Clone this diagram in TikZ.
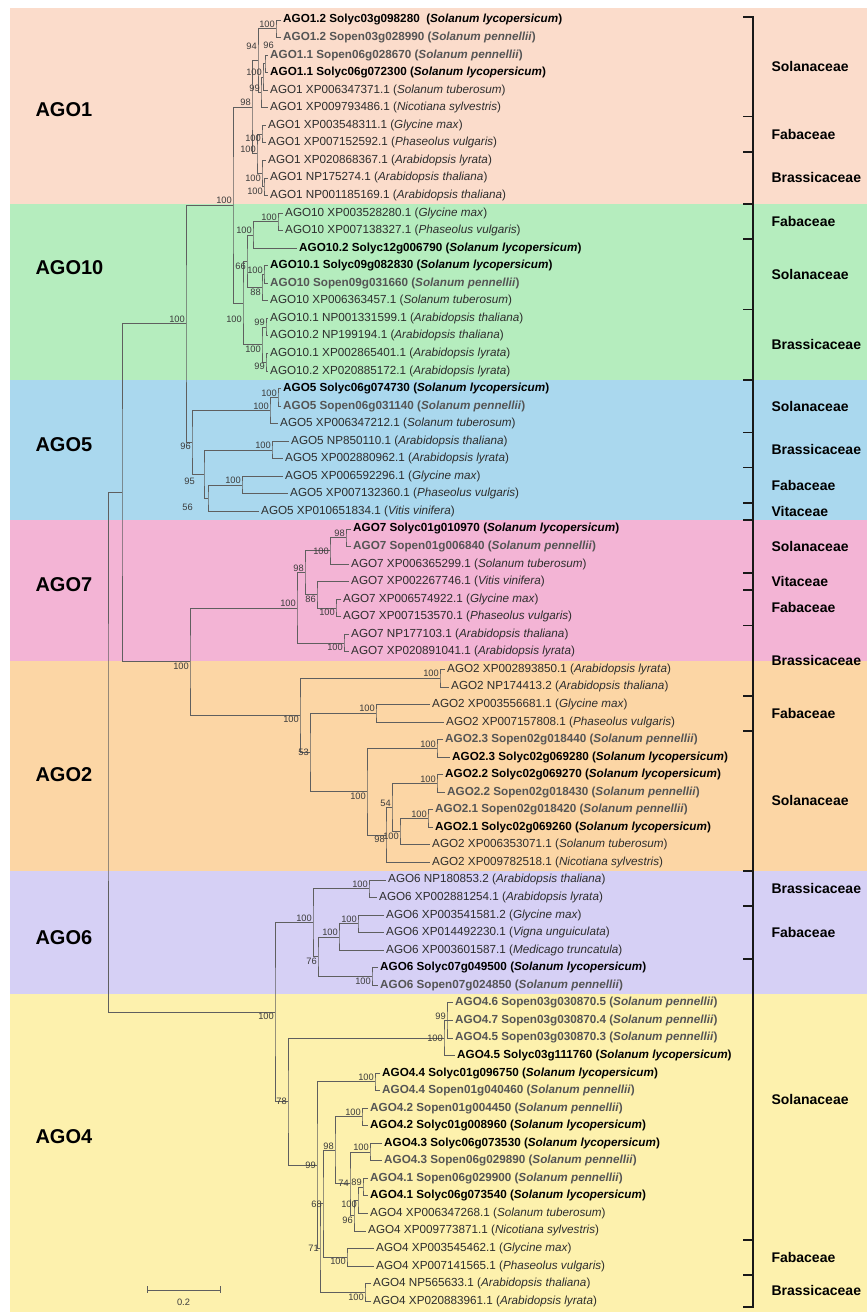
\documentclass[tikz,border=0pt]{standalone}
\usepackage{fontspec}
\setmainfont{Liberation Sans}
\usepackage{tikz}
\usetikzlibrary{positioning}
\definecolor{bandago1}{RGB}{251,220,203}
\definecolor{bandago10}{RGB}{181,237,190}
\definecolor{bandago5}{RGB}{170,216,238}
\definecolor{bandago7}{RGB}{243,180,213}
\definecolor{bandago2}{RGB}{252,214,165}
\definecolor{bandago6}{RGB}{214,208,245}
\definecolor{bandago4}{RGB}{253,241,173}
\definecolor{treegray}{RGB}{95,95,95}
\definecolor{leafgray}{RGB}{45,45,45}
\definecolor{penngray}{RGB}{85,85,85}
\definecolor{bsgray}{RGB}{60,60,60}
\tikzset{
  br/.style={draw=treegray, line width=0.8pt},
  famline/.style={draw=black!90, line width=1.8pt},
  leaf/.style={anchor=west, inner xsep=2pt, inner ysep=0pt, font=\fontsize{11.7}{14}\selectfont, text=leafgray},
  lyco/.style={leaf, font=\fontsize{11.7}{14}\selectfont\bfseries, text=black},
  penn/.style={leaf, font=\fontsize{11.7}{14}\selectfont\bfseries, text=penngray},
  bs/.style={font=\fontsize{9.3}{11}\selectfont, text=bsgray, inner sep=1pt},
  bsa/.style={bs, anchor=south east},
  bsb/.style={bs, anchor=north east},
  bsl/.style={bs, anchor=east},
  grp/.style={anchor=west, font=\fontsize{20}{23}\selectfont\bfseries},
  fam/.style={anchor=west, font=\fontsize{14}{16}\selectfont\bfseries},
}
\begin{document}
\begin{tikzpicture}[x=1pt,y=-17.55pt]
% x in pixels, y in leaf rows
\useasboundingbox (0,-0.1396) rectangle (867,74.619);

% coloured bands, one per AGO group
\fill[bandago1] (10,0.316) rectangle (867,11.5);
\fill[bandago10] (10,11.5) rectangle (867,21.5);
\fill[bandago5] (10,21.5) rectangle (867,29.5);
\fill[bandago7] (10,29.5) rectangle (867,37.5);
\fill[bandago2] (10,37.5) rectangle (867,49.5);
\fill[bandago6] (10,49.5) rectangle (867,56.5);
\fill[bandago4] (10,56.5) rectangle (867,74.619);

\node[grp] (gAGO1) at (32,6.1) {AGO1};
\node[grp] (gAGO10) at (32,15.1) {AGO10};
\node[grp] (gAGO5) at (32,25.2) {AGO5};
\node[grp] (gAGO7) at (32,33.2) {AGO7};
\node[grp] (gAGO2) at (32,44) {AGO2};
\node[grp] (gAGO6) at (32,53.3) {AGO6};
\node[grp] (gAGO4) at (32,64.6) {AGO4};

% leaves
% AGO1
\node[lyco] (l1) at (281,1) {AGO1.2 Solyc03g098280 ~(\textit{Solanum lycopersicum})};
\node[penn] (l2) at (281,2) {AGO1.2 Sopen03g028990 (\textit{Solanum pennellii})};
\node[penn] (l3) at (268,3) {AGO1.1 Sopen06g028670 (\textit{Solanum pennellii})};
\node[lyco] (l4) at (268,4) {AGO1.1 Solyc06g072300 (\textit{Solanum lycopersicum})};
\node[leaf] (l5) at (268,5) {AGO1 XP006347371.1 (\textit{Solanum tuberosum})};
\node[leaf] (l6) at (268,6) {AGO1 XP009793486.1 (\textit{Nicotiana sylvestris})};
\node[leaf] (l7) at (266,7) {AGO1 XP003548311.1 (\textit{Glycine max})};
\node[leaf] (l8) at (266,8) {AGO1 XP007152592.1 (\textit{Phaseolus vulgaris})};
\node[leaf] (l9) at (266,9) {AGO1 XP020868367.1 (\textit{Arabidopsis lyrata})};
\node[leaf] (l10) at (268,10) {AGO1 NP175274.1 (\textit{Arabidopsis thaliana})};
\node[leaf] (l11) at (268,11) {AGO1 NP001185169.1 (\textit{Arabidopsis thaliana})};
% AGO10
\node[leaf] (l12) at (283,12) {AGO10 XP003528280.1 (\textit{Glycine max})};
\node[leaf] (l13) at (283,13) {AGO10 XP007138327.1 (\textit{Phaseolus vulgaris})};
\node[lyco] (l14) at (297,14) {AGO10.2 Solyc12g006790 (\textit{Solanum lycopersicum})};
\node[lyco] (l15) at (268,15) {AGO10.1 Solyc09g082830 (\textit{Solanum lycopersicum})};
\node[penn] (l16) at (268,16) {AGO10 Sopen09g031660 (\textit{Solanum pennellii})};
\node[leaf] (l17) at (268,17) {AGO10 XP006363457.1 (\textit{Solanum tuberosum})};
\node[leaf] (l18) at (268,18) {AGO10.1 NP001331599.1 (\textit{Arabidopsis thaliana})};
\node[leaf] (l19) at (268,19) {AGO10.2 NP199194.1 (\textit{Arabidopsis thaliana})};
\node[leaf] (l20) at (268,20) {AGO10.1 XP002865401.1 (\textit{Arabidopsis lyrata})};
\node[leaf] (l21) at (268,21) {AGO10.2 XP020885172.1 (\textit{Arabidopsis lyrata})};
% AGO5
\node[lyco] (l22) at (281,22) {AGO5 Solyc06g074730 (\textit{Solanum lycopersicum})};
\node[penn] (l23) at (281,23) {AGO5 Sopen06g031140 (\textit{Solanum pennellii})};
\node[leaf] (l24) at (278,24) {AGO5 XP006347212.1 (\textit{Solanum tuberosum})};
\node[leaf] (l25) at (289,25) {AGO5 NP850110.1 (\textit{Arabidopsis thaliana})};
\node[leaf] (l26) at (283,26) {AGO5 XP002880962.1 (\textit{Arabidopsis lyrata})};
\node[leaf] (l27) at (283,27) {AGO5 XP006592296.1 (\textit{Glycine max})};
\node[leaf] (l28) at (288,28) {AGO5 XP007132360.1 (\textit{Phaseolus vulgaris})};
\node[leaf] (l29) at (259,29) {AGO5 XP010651834.1 (\textit{Vitis vinifera})};
% AGO7
\node[lyco] (l30) at (351,30) {AGO7 Solyc01g010970 (\textit{Solanum lycopersicum})};
\node[penn] (l31) at (351,31) {AGO7 Sopen01g006840 (\textit{Solanum pennellii})};
\node[leaf] (l32) at (349,32) {AGO7 XP006365299.1 (\textit{Solanum tuberosum})};
\node[leaf] (l33) at (349,33) {AGO7 XP002267746.1 (\textit{Vitis vinifera})};
\node[leaf] (l34) at (341,34) {AGO7 XP006574922.1 (\textit{Glycine max})};
\node[leaf] (l35) at (341,35) {AGO7 XP007153570.1 (\textit{Phaseolus vulgaris})};
\node[leaf] (l36) at (349,36) {AGO7 NP177103.1 (\textit{Arabidopsis thaliana})};
\node[leaf] (l37) at (349,37) {AGO7 XP020891041.1 (\textit{Arabidopsis lyrata})};
% AGO2
\node[leaf] (l38) at (445,38) {AGO2 XP002893850.1 (\textit{Arabidopsis lyrata})};
\node[leaf] (l39) at (449,39) {AGO2 NP174413.2 (\textit{Arabidopsis thaliana})};
\node[leaf] (l40) at (430,40) {AGO2 XP003556681.1 (\textit{Glycine max})};
\node[leaf] (l41) at (444,41) {AGO2 XP007157808.1 (\textit{Phaseolus vulgaris})};
\node[penn] (l42) at (443,42) {AGO2.3 Sopen02g018440 (\textit{Solanum pennellii})};
\node[lyco] (l43) at (450,43) {AGO2.3 Solyc02g069280 (\textit{Solanum lycopersicum})};
\node[lyco] (l44) at (443,44) {AGO2.2 Solyc02g069270 (\textit{Solanum lycopersicum})};
\node[penn] (l45) at (445,45) {AGO2.2 Sopen02g018430 (\textit{Solanum pennellii})};
\node[penn] (l46) at (433,46) {AGO2.1 Sopen02g018420 (\textit{Solanum pennellii})};
\node[lyco] (l47) at (433,47) {AGO2.1 Solyc02g069260 (\textit{Solanum lycopersicum})};
\node[leaf] (l48) at (430,48) {AGO2 XP006353071.1 (\textit{Solanum tuberosum})};
\node[leaf] (l49) at (430,49) {AGO2 XP009782518.1 (\textit{Nicotiana sylvestris})};
% AGO6
\node[leaf] (l50) at (386,50) {AGO6 NP180853.2 (\textit{Arabidopsis thaliana})};
\node[leaf] (l51) at (377,51) {AGO6 XP002881254.1 (\textit{Arabidopsis lyrata})};
\node[leaf] (l52) at (384,52) {AGO6 XP003541581.2 (\textit{Glycine max})};
\node[leaf] (l53) at (384,53) {AGO6 XP014492230.1 (\textit{Vigna unguiculata})};
\node[leaf] (l54) at (384,54) {AGO6 XP003601587.1 (\textit{Medicago truncatula})};
\node[lyco] (l55) at (378,55) {AGO6 Solyc07g049500 (\textit{Solanum lycopersicum})};
\node[penn] (l56) at (378,56) {AGO6 Sopen07g024850 (\textit{Solanum pennellii})};
% AGO4
\node[penn] (l57) at (453,57) {AGO4.6 Sopen03g030870.5 (\textit{Solanum pennellii})};
\node[penn] (l58) at (453,58) {AGO4.7 Sopen03g030870.4 (\textit{Solanum pennellii})};
\node[penn] (l59) at (453,59) {AGO4.5 Sopen03g030870.3 (\textit{Solanum pennellii})};
\node[lyco] (l60) at (455,60) {AGO4.5 Solyc03g111760 (\textit{Solanum lycopersicum})};
\node[lyco] (l61) at (380,61) {AGO4.4 Solyc01g096750 (\textit{Solanum lycopersicum})};
\node[penn] (l62) at (380,62) {AGO4.4 Sopen01g040460 (\textit{Solanum pennellii})};
\node[penn] (l63) at (368,63) {AGO4.2 Sopen01g004450 (\textit{Solanum pennellii})};
\node[lyco] (l64) at (368,64) {AGO4.2 Solyc01g008960 (\textit{Solanum lycopersicum})};
\node[lyco] (l65) at (382,65) {AGO4.3 Solyc06g073530 (\textit{Solanum lycopersicum})};
\node[penn] (l66) at (382,66) {AGO4.3 Sopen06g029890 (\textit{Solanum pennellii})};
\node[penn] (l67) at (368,67) {AGO4.1 Sopen06g029900 (\textit{Solanum pennellii})};
\node[lyco] (l68) at (368,68) {AGO4.1 Solyc06g073540 (\textit{Solanum lycopersicum})};
\node[leaf] (l69) at (368,69) {AGO4 XP006347268.1 (\textit{Solanum tuberosum})};
\node[leaf] (l70) at (366,70) {AGO4 XP009773871.1 (\textit{Nicotiana sylvestris})};
\node[leaf] (l71) at (374,71) {AGO4 XP003545462.1 (\textit{Glycine max})};
\node[leaf] (l72) at (374,72) {AGO4 XP007141565.1 (\textit{Phaseolus vulgaris})};
\node[leaf] (l73) at (371,73) {AGO4 NP565633.1 (\textit{Arabidopsis thaliana})};
\node[leaf] (l74) at (371,74) {AGO4 XP020883961.1 (\textit{Arabidopsis lyrata})};

% internal nodes
\coordinate (a1) at (276,1.5);
\coordinate (a2) at (265,3.5);
\coordinate (a3) at (263,4.25);
\coordinate (a4) at (261,5.125);
\coordinate (a5) at (258,3.3125);
\coordinate (a6) at (262,7.5);
\coordinate (a7) at (264,10.5);
\coordinate (a8) at (262,9.75);
\coordinate (a9) at (257,8.625);
\coordinate (a10) at (252,5.969);
\coordinate (b1) at (278,12.5);
\coordinate (b2) at (253,13.25);
\coordinate (b3) at (264,15.5);
\coordinate (b4) at (262,16.25);
\coordinate (b5) at (247,14.75);
\coordinate (b6) at (266,18.5);
\coordinate (b7) at (266,20.5);
\coordinate (b8) at (262,19.5);
\coordinate (b9) at (243,17.125);
\coordinate (E) at (233,11.547);
\coordinate (c1) at (278,22.5);
\coordinate (c2) at (270,23.25);
\coordinate (c3) at (272,25.5);
\coordinate (c4) at (242,27.5);
\coordinate (c5) at (208,28.25);
\coordinate (c6) at (204,26.875);
\coordinate (c7) at (192,25.063);
\coordinate (C) at (186,18.305);
\coordinate (d1) at (346,30.5);
\coordinate (d2) at (330,31.25);
\coordinate (d3) at (336,34.5);
\coordinate (d4) at (317,33.75);
\coordinate (d5) at (305,32.5);
\coordinate (d6) at (344,36.5);
\coordinate (d7) at (297,34.5);
\coordinate (e1) at (440,38.5);
\coordinate (e2) at (376,40.5);
\coordinate (e4) at (437,42.5);
\coordinate (e5) at (437,44.5);
\coordinate (e6) at (428,46.5);
\coordinate (e7) at (400,47.25);
\coordinate (e8) at (392,45.875);
\coordinate (e9) at (386,47.438);
\coordinate (e10) at (367,44.969);
\coordinate (e11) at (310,42.734);
\coordinate (e12) at (300,40.617);
\coordinate (D) at (190,37.559);
\coordinate (A) at (122,27.932);
\coordinate (f1) at (369,50.5);
\coordinate (f2) at (358,52.5);
\coordinate (f3) at (339,53.25);
\coordinate (f4) at (372,55.5);
\coordinate (f5) at (318,54.375);
\coordinate (f6) at (313,52.438);
\coordinate (g1) at (447,58);
\coordinate (g3) at (444,59);
\coordinate (g4) at (375,61.5);
\coordinate (g5) at (362,63.5);
\coordinate (g6) at (370,65.5);
\coordinate (g7) at (363,67.5);
\coordinate (h1) at (358,68.25);
\coordinate (h2) at (354,69.125);
\coordinate (h3) at (350,67.313);
\coordinate (h4) at (335,65.406);
\coordinate (g9) at (347,71.5);
\coordinate (h5) at (323,68.453);
\coordinate (g10) at (365,73.5);
\coordinate (h6) at (320,70.977);
\coordinate (h7) at (317,66.238);
\coordinate (h8) at (288,62.619);
\coordinate (B) at (275,57.528);
\coordinate (R) at (108,42.73);

% branches
\draw[br] (l1.west) -| (a1) |- (l2.west);
\draw[br] (l3.west) -| (a2) |- (l4.west);
\draw[br] (a2) -| (a3) |- (l5.west);
\draw[br] (a3) -| (a4) |- (l6.west);
\draw[br] (a1) -| (a5) |- (a4);
\draw[br] (l7.west) -| (a6) |- (l8.west);
\draw[br] (l10.west) -| (a7) |- (l11.west);
\draw[br] (l9.west) -| (a8) |- (a7);
\draw[br] (a6) -| (a9) |- (a8);
\draw[br] (a5) -| (a10) |- (a9);
\draw[br] (l12.west) -| (b1) |- (l13.west);
\draw[br] (b1) -| (b2) |- (l14.west);
\draw[br] (l15.west) -| (b3) |- (l16.west);
\draw[br] (b3) -| (b4) |- (l17.west);
\draw[br] (b2) -| (b5) |- (b4);
\draw[br] (l18.west) -| (b6) |- (l19.west);
\draw[br] (l20.west) -| (b7) |- (l21.west);
\draw[br] (b6) -| (b8) |- (b7);
\draw[br] (b5) -| (b9) |- (b8);
\draw[br] (a10) -| (E) |- (b9);
\draw[br] (l22.west) -| (c1) |- (l23.west);
\draw[br] (c1) -| (c2) |- (l24.west);
\draw[br] (l25.west) -| (c3) |- (l26.west);
\draw[br] (l27.west) -| (c4) |- (l28.west);
\draw[br] (c4) -| (c5) |- (l29.west);
\draw[br] (c3) -| (c6) |- (c5);
\draw[br] (c2) -| (c7) |- (c6);
\draw[br] (E) -| (C) |- (c7);
\draw[br] (l30.west) -| (d1) |- (l31.west);
\draw[br] (d1) -| (d2) |- (l32.west);
\draw[br] (l34.west) -| (d3) |- (l35.west);
\draw[br] (l33.west) -| (d4) |- (d3);
\draw[br] (d2) -| (d5) |- (d4);
\draw[br] (l36.west) -| (d6) |- (l37.west);
\draw[br] (d5) -| (d7) |- (d6);
\draw[br] (l38.west) -| (e1) |- (l39.west);
\draw[br] (l40.west) -| (e2) |- (l41.west);
\draw[br] (l42.west) -| (e4) |- (l43.west);
\draw[br] (l44.west) -| (e5) |- (l45.west);
\draw[br] (l46.west) -| (e6) |- (l47.west);
\draw[br] (e6) -| (e7) |- (l48.west);
\draw[br] (e5) -| (e8) |- (e7);
\draw[br] (e8) -| (e9) |- (l49.west);
\draw[br] (e4) -| (e10) |- (e9);
\draw[br] (e2) -| (e11) |- (e10);
\draw[br] (e1) -| (e12) |- (e11);
\draw[br] (d7) -| (D) |- (e12);
\draw[br] (C) -| (A) |- (D);
\draw[br] (l50.west) -| (f1) |- (l51.west);
\draw[br] (l52.west) -| (f2) |- (l53.west);
\draw[br] (f2) -| (f3) |- (l54.west);
\draw[br] (l55.west) -| (f4) |- (l56.west);
\draw[br] (f3) -| (f5) |- (f4);
\draw[br] (f1) -| (f6) |- (f5);
\draw[br] (l57.west) -| (g1) |- (l59.west);
\draw[br] (g1) -- (l58.west);
\draw[br] (g1) -| (g3) |- (l60.west);
\draw[br] (l61.west) -| (g4) |- (l62.west);
\draw[br] (l63.west) -| (g5) |- (l64.west);
\draw[br] (l65.west) -| (g6) |- (l66.west);
\draw[br] (l67.west) -| (g7) |- (l68.west);
\draw[br] (g7) -| (h1) |- (l69.west);
\draw[br] (h1) -| (h2) |- (l70.west);
\draw[br] (g6) -| (h3) |- (h2);
\draw[br] (g5) -| (h4) |- (h3);
\draw[br] (l71.west) -| (g9) |- (l72.west);
\draw[br] (h4) -| (h5) |- (g9);
\draw[br] (l73.west) -| (g10) |- (l74.west);
\draw[br] (h5) -| (h6) |- (g10);
\draw[br] (g4) -| (h7) |- (h6);
\draw[br] (g3) -| (h8) |- (h7);
\draw[br] (f6) -| (B) |- (h8);
\draw[br] (A) -| (R) |- (B);

% bootstrap values
\node[bsa] (ba1) at (a1) {100};
\node[bsa, yshift=10pt] (ba5) at (a5) {94};
\node[bsa, xshift=10pt, yshift=14pt] (ba2) at (a2) {96};
\node[bsa] (ba3) at (a3) {100};
\node[bsa] (ba4) at (a4) {99};
\node[bsa] (ba10) at (a10) {98};
\node[bsb] (ba6) at (a6) {100};
\node[bsa] (ba9) at (a9) {100};
\node[bsb] (ba7) at (a7) {100};
\node[bsb] (ba8) at (a8) {100};
\node[bsa] (bE) at (E) {100};
\node[bsa] (bb1) at (b1) {100};
\node[bsa] (bb2) at (b2) {100};
\node[bsa] (bb3) at (b3) {100};
\node[bsb] (bb4) at (b4) {88};
\node[bsb] (bb5) at (b5) {66};
\node[bsa] (bb6) at (b6) {99};
\node[bsb] (bb7) at (b7) {99};
\node[bsb] (bb8) at (b8) {100};
\node[bsb, yshift=-12pt] (bb9) at (b9) {100};
\node[bsa] (bC) at (C) {100};
\node[bsa] (bc1) at (c1) {100};
\node[bsa] (bc2) at (c2) {100};
\node[bsa] (bc3) at (c3) {100};
\node[bsa] (bc4) at (c4) {100};
\node[bsb, xshift=-14pt, yshift=-5pt] (bc5) at (c5) {56};
\node[bsb, xshift=-8pt, yshift=-3pt] (bc6) at (c6) {95};
\node[bsb] (bc7) at (c7) {96};
\node[bsa] (bd1) at (d1) {98};
\node[bsl] (bd2) at (d2) {100};
\node[bsb] (bd3) at (d3) {100};
\node[bsb] (bd4) at (d4) {86};
\node[bsa] (bd5) at (d5) {98};
\node[bsb] (bd6) at (d6) {100};
\node[bsa] (bd7) at (d7) {100};
\node[bsb] (bD) at (D) {100};
\node[bsa] (be1) at (e1) {100};
\node[bsa] (be2) at (e2) {100};
\node[bsa] (be4) at (e4) {100};
\node[bsa] (be5) at (e5) {100};
\node[bsa] (be6) at (e6) {100};
\node[bsb] (be7) at (e7) {100};
\node[bsa] (be8) at (e8) {54};
\node[bsb] (be9) at (e9) {98};
\node[bsb] (be10) at (e10) {100};
\node[bsl] (be11) at (e11) {53};
\node[bsb] (be12) at (e12) {100};
\node[bsa] (bf1) at (f1) {100};
\node[bsa] (bf2) at (f2) {100};
\node[bsa] (bf3) at (f3) {100};
\node[bsb] (bf4) at (f4) {100};
\node[bsb] (bf5) at (f5) {76};
\node[bsa] (bf6) at (f6) {100};
\node[bsb] (bB) at (B) {100};
\node[bsa] (bg1) at (g1) {99};
\node[bsl] (bg3) at (g3) {100};
\node[bsa] (bg4) at (g4) {100};
\node[bsa] (bg5) at (g5) {100};
\node[bsa] (bg6) at (g6) {100};
\node[bsa] (bg7) at (g7) {89};
\node[bsb] (bh1) at (h1) {100};
\node[bsb] (bh2) at (h2) {96};
\node[bsl] (bh3) at (h3) {74};
\node[bsa] (bh4) at (h4) {98};
\node[bsb] (bg9) at (g9) {100};
\node[bsl] (bh5) at (h5) {68};
\node[bsb] (bg10) at (g10) {100};
\node[bsl] (bh6) at (h6) {71};
\node[bsl] (bh7) at (h7) {99};
\node[bsl] (bh8) at (h8) {78};

% family brackets
\draw[famline] (743,0.83) -- (753,0.83) -- (753,74.35) -- (743,74.35);
\foreach \t in {6.5,8.5,11.5,13.5,17.5,21.5,24.5,26.5,28.5,29.5,32.5,33.5,35.5,39.5,41.5,49.5,51.5,54.5,70.5,72.5}
  \draw[famline] (743,\t) -- (753,\t);
\node[fam] (f01) at (768,3.66) {Solanaceae};
\node[fam] (f02) at (768,7.5) {Fabaceae};
\node[fam] (f03) at (768,10) {Brassicaceae};
\node[fam] (f04) at (768,12.5) {Fabaceae};
\node[fam] (f05) at (768,15.5) {Solanaceae};
\node[fam] (f06) at (768,19.5) {Brassicaceae};
\node[fam] (f07) at (768,23) {Solanaceae};
\node[fam] (f08) at (768,25.5) {Brassicaceae};
\node[fam] (f09) at (768,27.5) {Fabaceae};
\node[fam] (f10) at (768,29) {Vitaceae};
\node[fam] (f11) at (768,31) {Solanaceae};
\node[fam] (f12) at (768,33) {Vitaceae};
\node[fam] (f13) at (768,34.5) {Fabaceae};
\node[fam] (f14) at (768,37.5) {Brassicaceae};
\node[fam] (f15) at (768,40.5) {Fabaceae};
\node[fam] (f16) at (768,45.5) {Solanaceae};
\node[fam] (f17) at (768,50.5) {Brassicaceae};
\node[fam] (f18) at (768,53) {Fabaceae};
\node[fam] (f19) at (768,62.5) {Solanaceae};
\node[fam] (f20) at (768,71.5) {Fabaceae};
\node[fam] (f21) at (768,73.4) {Brassicaceae};

% scale bar
\coordinate (sb1) at (147,73.36);
\coordinate (sb2) at (220,73.36);
\draw[br] (sb1) -- (sb2);
\draw[br] ([yshift=3.5pt]sb1) -- ([yshift=-3.5pt]sb1);
\draw[br] ([yshift=3.5pt]sb2) -- ([yshift=-3.5pt]sb2);
\node[bs] (sbl) at (183.5,74.05) {0.2};
\end{tikzpicture}
\end{document}
